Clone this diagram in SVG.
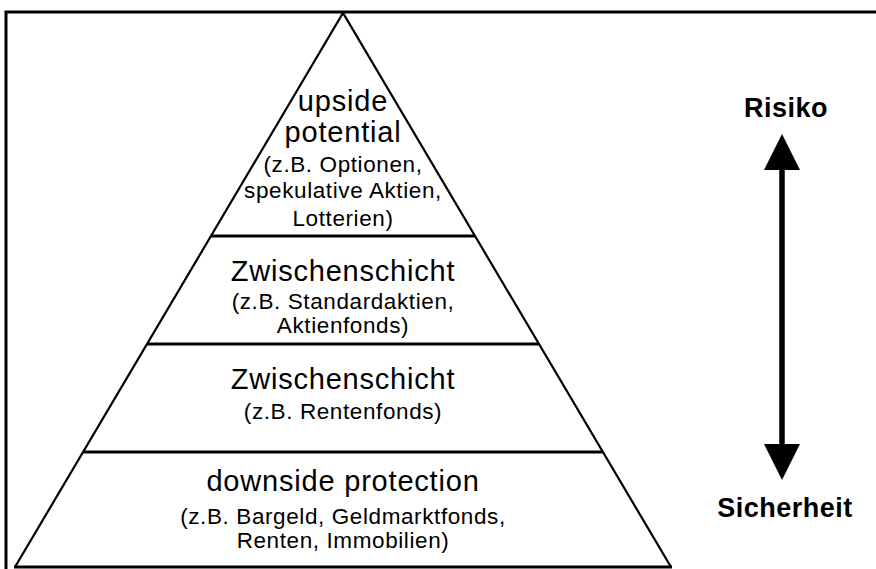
<svg xmlns="http://www.w3.org/2000/svg" width="876" height="569" viewBox="0 0 876 569">
<style>
.big{font-family:"Liberation Sans",Arial,sans-serif;font-size:29px;letter-spacing:0.8px;fill:#000;text-anchor:middle}
.small{font-family:"Liberation Sans",Arial,sans-serif;font-size:22.5px;letter-spacing:0.6px;fill:#000;text-anchor:middle}
.lbl{font-family:"Liberation Sans",Arial,sans-serif;font-size:27px;letter-spacing:0.5px;font-weight:bold;fill:#000;text-anchor:middle}
.sep{stroke:#000;stroke-width:3;fill:none}
.side{stroke:#000;stroke-width:2.2;fill:none}
</style>
<defs>
<marker id="ah" viewBox="0 0 36 36" refX="0" refY="18" markerWidth="36" markerHeight="36" markerUnits="userSpaceOnUse" orient="auto-start-reverse">
<path d="M0,0 L36,18 L0,36 Z" fill="#000"/>
</marker>
</defs>
<rect width="876" height="569" fill="#fff"/>
<path id="frame" d="M6,569 V12 H876" fill="none" stroke="#000" stroke-width="3"/>
<g id="pyramid">
<path class="side" d="M15,567 L343,13 L671,567"/>
<line class="sep" x1="211" y1="236" x2="475" y2="236"/>
<line class="sep" x1="147" y1="344" x2="539" y2="344"/>
<line class="sep" x1="83" y1="452" x2="603" y2="452"/>
<line class="sep" x1="14" y1="567" x2="672" y2="567"/>
</g>
<g id="layer1">
<text class="big" x="343" y="111">upside</text>
<text class="big" x="343" y="142">potential</text>
<text class="small" x="343" y="172">(z.B. Optionen,</text>
<text class="small" x="343" y="198">spekulative Aktien,</text>
<text class="small" x="343" y="226">Lotterien)</text>
</g>
<g id="layer2">
<text class="big" x="343" y="281">Zwischenschicht</text>
<text class="small" x="343" y="309">(z.B. Standardaktien,</text>
<text class="small" x="343" y="333">Aktienfonds)</text>
</g>
<g id="layer3">
<text class="big" x="343" y="389">Zwischenschicht</text>
<text class="small" x="343" y="419">(z.B. Rentenfonds)</text>
</g>
<g id="layer4">
<text class="big" x="343" y="491">downside protection</text>
<text class="small" x="343" y="524">(z.B. Bargeld, Geldmarktfonds,</text>
<text class="small" x="343" y="548">Renten, Immobilien)</text>
</g>
<g id="risiko"><text class="lbl" x="786" y="117">Risiko</text></g>
<g id="sicherheit"><text class="lbl" x="785" y="517">Sicherheit</text></g>
<g id="connectors">
<line x1="782" y1="170" x2="782" y2="444" stroke="#000" stroke-width="5.5" marker-start="url(#ah)" marker-end="url(#ah)"/>
</g>
</svg>
